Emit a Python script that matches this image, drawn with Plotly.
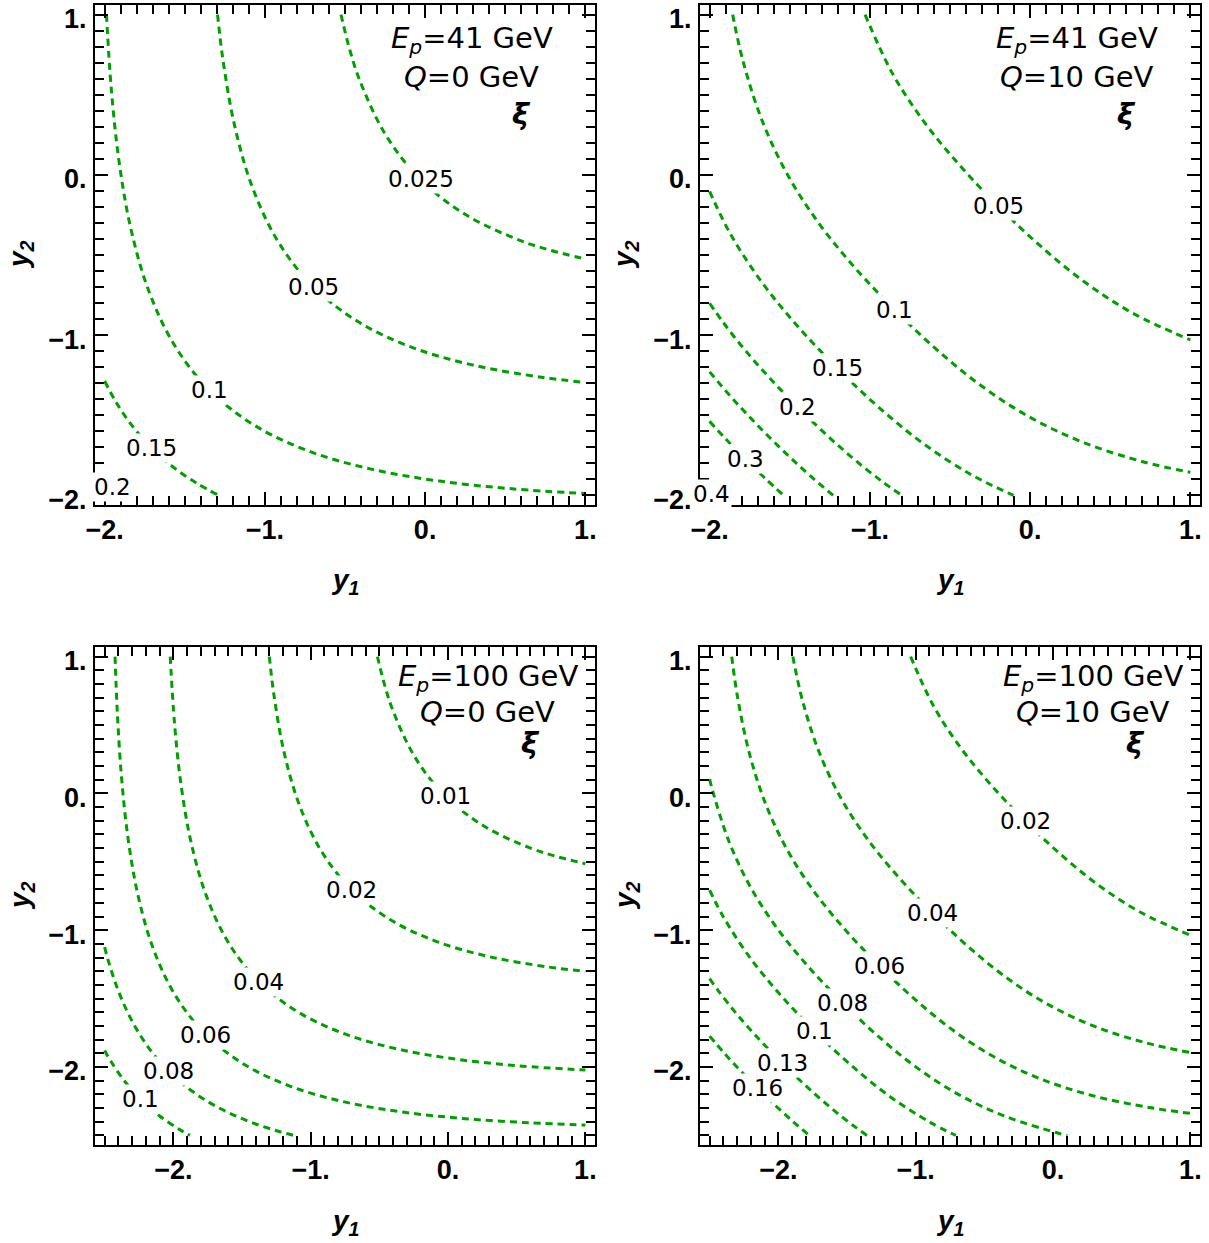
import plotly.graph_objects as go

# ------------------------------------------------------------------ data
# Contour lines of xi: (y1, y2) points of each line.

# Panel 1: E_p = 41 GeV, Q = 0 GeV
P1_LEVELS = ["0.025", "0.05", "0.1", "0.15", "0.2"]
P1_Y1 = [
    [-0.5251, -0.4701, -0.4087, -0.2479, -0.0288, 0.2521, 0.5913, 0.7799, 1.0],
    [-1.2951, -1.2641, -1.1896, -1.0778, -0.9170, -0.6979, -0.4170, -0.0778, 0.3104, 0.7359, 1.0],
    [-1.9885, -1.9588, -1.9107, -1.8362, -1.7244, -1.5636, -1.3445, -1.0636, -0.7244, -0.3362, 0.0893, 0.5412, 1.0],
    [-2.0, -1.9246, -1.8228, -1.7055, -1.5728, -1.4246, -1.2864],
    [-2.0, -1.9507, -1.8988],
]
P1_Y2 = [
    [1.0, 0.7799, 0.5913, 0.2521, -0.0288, -0.2479, -0.4087, -0.4701, -0.5251],
    [1.0, 0.7359, 0.3104, -0.0778, -0.4170, -0.6979, -0.9170, -1.0778, -1.1896, -1.2641, -1.2951],
    [1.0, 0.5412, 0.0893, -0.3362, -0.7244, -1.0636, -1.3445, -1.5636, -1.7244, -1.8362, -1.9107, -1.9588, -1.9885],
    [-1.2864, -1.4246, -1.5728, -1.7055, -1.8228, -1.9246, -2.0],
    [-1.8988, -1.9507, -2.0],
]
P1_LABEL_AT = [-0.0288, -0.6979, -1.3445, -1.7055, -1.9507]

# Panel 2: E_p = 41 GeV, Q = 10 GeV
P2_LEVELS = ["0.05", "0.1", "0.15", "0.2", "", "0.3", "0.4"]
P2_Y1 = [
    [-1.0301, -0.8619, -0.6649, -0.4401, -0.1971, 0.0599, 0.3351, 0.6381, 1.0],
    [-1.8564, -1.7913, -1.6693, -1.5085, -1.3115, -1.0867, -0.8437, -0.5867, -0.3115, -0.0085, 0.3307, 0.7087, 1.0],
    [-2.0, -1.8696, -1.6725, -1.4478, -1.2048, -0.9478, -0.6725, -0.3696, -0.1035],
    [-2.0, -1.9176, -1.8081, -1.6929, -1.5732, -1.4499, -1.3232, -1.1929, -1.0581, -0.9176, -0.801],
    [-2.0, -1.8752, -1.7555, -1.6322, -1.5055, -1.3752, -1.2292],
    [-2.0, -1.8986, -1.7753, -1.6486, -1.5382],
    [-2.0, -1.9889, -1.9777],
]
P2_Y2 = [
    [1.0, 0.6381, 0.3351, 0.0599, -0.1971, -0.4401, -0.6649, -0.8619, -1.0301],
    [1.0, 0.7087, 0.3307, -0.0085, -0.3115, -0.5867, -0.8437, -1.0867, -1.3115, -1.5085, -1.6693, -1.7913, -1.8564],
    [-0.1035, -0.3696, -0.6725, -0.9478, -1.2048, -1.4478, -1.6725, -1.8696, -2.0],
    [-0.801, -0.9176, -1.0581, -1.1929, -1.3232, -1.4499, -1.5732, -1.6929, -1.8081, -1.9176, -2.0],
    [-1.2292, -1.3752, -1.5055, -1.6322, -1.7555, -1.8752, -2.0],
    [-1.5382, -1.6486, -1.7753, -1.8986, -2.0],
    [-1.9777, -1.9889, -2.0],
]
P2_LABEL_AT = [-0.1971, -0.8437, -1.2048, -1.4499, None, -1.7753, -1.9889]

# Panel 3: E_p = 100 GeV, Q = 0 GeV
P3_LEVELS = ["0.01", "0.02", "0.04", "0.06", "0.08", "0.1"]
P3_Y1 = [
    [-0.5139, -0.4608, -0.3995, -0.2387, -0.0196, 0.2613, 0.6005, 0.7892, 1.0],
    [-1.3006, -1.2691, -1.1946, -1.0828, -0.9220, -0.7029, -0.4220, -0.0828, 0.3054, 0.7309, 1.0],
    [-2.0222, -1.9909, -1.9428, -1.8683, -1.7565, -1.5957, -1.3766, -1.0957, -0.7565, -0.3683, 0.0572, 0.5091, 1.0],
    [-2.4241, -2.4076, -2.3773, -2.3293, -2.2548, -2.1429, -1.9821, -1.7630, -1.4821, -1.1429, -0.7548, -0.3293, 0.1227, 0.5924, 1.0],
    [-2.5, -2.4732, -2.4119, -2.3383, -2.2511, -2.1492, -2.0320, -1.8992, -1.7511, -1.5883, -1.4119, -1.2232, -1.1239],
    [-2.5, -2.4559, -2.3541, -2.2369, -2.1041, -1.9559, -1.8787],
]
P3_Y2 = [
    [1.0, 0.7892, 0.6005, 0.2613, -0.0196, -0.2387, -0.3995, -0.4608, -0.5139],
    [1.0, 0.7309, 0.3054, -0.0828, -0.4220, -0.7029, -0.9220, -1.0828, -1.1946, -1.2691, -1.3006],
    [1.0, 0.5091, 0.0572, -0.3683, -0.7565, -1.0957, -1.3766, -1.5957, -1.7565, -1.8683, -1.9428, -1.9909, -2.0222],
    [1.0, 0.5924, 0.1227, -0.3293, -0.7548, -1.1429, -1.4821, -1.7630, -1.9821, -2.1429, -2.2548, -2.3293, -2.3773, -2.4076, -2.4241],
    [-1.1239, -1.2232, -1.4119, -1.5883, -1.7511, -1.8992, -2.0320, -2.1492, -2.2511, -2.3383, -2.4119, -2.4732, -2.5],
    [-1.8787, -1.9559, -2.1041, -2.2369, -2.3541, -2.4559, -2.5],
]
P3_LABEL_AT = [-0.0196, -0.7029, -1.3766, -1.7630, -2.0320, -2.2369]

# Panel 4: E_p = 100 GeV, Q = 10 GeV
P4_LEVELS = ["0.02", "0.04", "0.06", "0.08", "0.1", "0.13", "0.16"]
P4_Y1 = [
    [-1.0367, -0.8669, -0.6699, -0.4451, -0.2021, 0.0549, 0.3301, 0.6331, 1.0],
    [-1.8943, -1.8234, -1.7015, -1.5406, -1.3436, -1.1188, -0.8758, -0.6188, -0.3436, -0.0406, 0.2985, 0.6766, 1.0],
    [-2.3389, -2.2965, -2.2099, -2.0879, -1.9271, -1.7300, -1.5053, -1.2623, -1.0053, -0.7300, -0.4271, -0.0879, 0.2901, 0.7035, 1.0],
    [-2.5, -2.4788, -2.3569, -2.1961, -1.9990, -1.7742, -1.5313, -1.2742, -0.9990, -0.6961, -0.3569, 0.0212, 0.1041],
    [-2.5, -2.4009, -2.2038, -1.9791, -1.7361, -1.4791, -1.2038, -0.9009, -0.7072],
    [-2.5, -2.4393, -2.3297, -2.2145, -2.0949, -1.9716, -1.8449, -1.7145, -1.5797, -1.4393, -1.3546],
    [-2.5, -2.3959, -2.2763, -2.1530, -2.0263, -1.8959, -1.7741],
]
P4_Y2 = [
    [1.0, 0.6331, 0.3301, 0.0549, -0.2021, -0.4451, -0.6699, -0.8669, -1.0367],
    [1.0, 0.6766, 0.2985, -0.0406, -0.3436, -0.6188, -0.8758, -1.1188, -1.3436, -1.5406, -1.7015, -1.8234, -1.8943],
    [1.0, 0.7035, 0.2901, -0.0879, -0.4271, -0.7300, -1.0053, -1.2623, -1.5053, -1.7300, -1.9271, -2.0879, -2.2099, -2.2965, -2.3389],
    [0.1041, 0.0212, -0.3569, -0.6961, -0.9990, -1.2742, -1.5313, -1.7742, -1.9990, -2.1961, -2.3569, -2.4788, -2.5],
    [-0.7072, -0.9009, -1.2038, -1.4791, -1.7361, -1.9791, -2.2038, -2.4009, -2.5],
    [-1.3546, -1.4393, -1.5797, -1.7145, -1.8449, -1.9716, -2.0949, -2.2145, -2.3297, -2.4393, -2.5],
    [-1.7741, -1.8959, -2.0263, -2.1530, -2.2763, -2.3959, -2.5],
]
P4_LABEL_AT = [-0.2021, -0.8758, -1.2623, -1.5313, -1.7361, -1.9716, -2.1530]

EP_VALUES = ["41", "41", "100", "100"]
Q_VALUES = ["0", "10", "0", "10"]

TOP_RANGE = [-2.0, 1.0]
BOTTOM_RANGE = [-2.5, 1.0]
TICK_VALS = [-2, -1, 0, 1]
TICK_TEXT = ["\u22122.", "\u22121.", "0.", "1."]

# ------------------------------------------------------------------ style
GREEN = "#009f00"
W, H = 1209, 1243
X_DOM = [[95 / W, 595 / W], [700 / W, 1200 / W]]
Y_DOM = [[1 - 505 / H, 1 - 5 / H], [1 - 1145 / H, 1 - 647 / H]]
TEXT_Y = [[0.84, 0.61, 0.38], [0.84, 0.595, 0.365]]

panels = [
    (P1_LEVELS, P1_Y1, P1_Y2, P1_LABEL_AT, TOP_RANGE, 0, 0),
    (P2_LEVELS, P2_Y1, P2_Y2, P2_LABEL_AT, TOP_RANGE, 1, 0),
    (P3_LEVELS, P3_Y1, P3_Y2, P3_LABEL_AT, BOTTOM_RANGE, 0, 1),
    (P4_LEVELS, P4_Y1, P4_Y2, P4_LABEL_AT, BOTTOM_RANGE, 1, 1),
]

fig = go.Figure()
annotations = []
layout = dict(
    width=W, height=H, margin=dict(l=0, r=0, t=0, b=0, autoexpand=False),
    paper_bgcolor="white", plot_bgcolor="white", showlegend=False,
)

tickfont = dict(family="Liberation Sans", size=27, color="black", weight="bold")

for i, (levels, ys1, ys2, lab, rng, col, row) in enumerate(panels):
    sfx = "" if i == 0 else str(i + 1)
    xr, yr = "x" + sfx, "y" + sfx
    pad = 0.02 * (rng[1] - rng[0])
    full = [rng[0] - pad, rng[1] + pad]
    common = dict(
        range=full, showline=True, linewidth=2, linecolor="black", mirror="ticks",
        ticks="inside", ticklen=13, tickwidth=2, tickcolor="black",
        tickmode="array", tickvals=TICK_VALS, ticktext=TICK_TEXT,
        tickfont=tickfont, showgrid=False, zeroline=False, automargin=False,
        ticklabeloverflow="allow",
        minor=dict(ticks="inside", ticklen=9, tickwidth=1.8, tickcolor="black",
                   tickmode="linear", tick0=0, dtick=0.1, showgrid=False),
    )
    layout["xaxis" + sfx] = dict(common, domain=X_DOM[col], anchor=yr, ticklabelstandoff=0)
    layout["yaxis" + sfx] = dict(common, domain=Y_DOM[row], anchor=xr, ticklabelstandoff=1,
                                 ticklabelshift=4)

    for lv, a, b in zip(levels, ys1, ys2):
        fig.add_trace(go.Scatter(
            x=a, y=b, xaxis=xr, yaxis=yr, mode="lines", hoverinfo="skip",
            line=dict(color=GREEN, width=3, dash="7px,5px", shape="spline", smoothing=1.0),
        ))
    for lv, p in zip(levels, lab):
        if p is None or lv == "":
            continue
        annotations.append(dict(
            x=p, y=p, xref=xr, yref=yr, text=lv, showarrow=False,
            font=dict(family="DejaVu Sans", size=23, color="black"),
            bgcolor="white", borderpad=1, xanchor="center", yanchor="middle",
        ))
    # panel text
    ty = TEXT_Y[row]
    annotations.append(dict(
        x=0.29, y=ty[0], xref=xr, yref=yr, showarrow=False,
        text="<i>E</i><sub><i>p</i></sub>=" + EP_VALUES[i] + " GeV",
        font=dict(family="DejaVu Sans", size=29, color="black"),
        xanchor="center", yanchor="middle",
    ))
    annotations.append(dict(
        x=0.29, y=ty[1], xref=xr, yref=yr, showarrow=False,
        text="<i>Q</i>=" + Q_VALUES[i] + " GeV",
        font=dict(family="DejaVu Sans", size=29, color="black"),
        xanchor="center", yanchor="middle",
    ))
    annotations.append(dict(
        x=0.6, y=ty[2], xref=xr, yref=yr, showarrow=False, text="\u03be",
        font=dict(family="DejaVu Sans", size=29, color="black", weight="bold", style="italic"),
        xanchor="center", yanchor="middle",
    ))
    # axis titles
    xc = (X_DOM[col][0] + X_DOM[col][1]) / 2
    yc = (Y_DOM[row][0] + Y_DOM[row][1]) / 2
    annotations.append(dict(
        x=xc, y=Y_DOM[row][0] - 77 / H, xref="paper", yref="paper", showarrow=False,
        text="y<sub>1</sub>",
        font=dict(family="Liberation Sans", size=28, color="black", weight="bold", style="italic"),
        xanchor="center", yanchor="middle",
    ))
    annotations.append(dict(
        x=X_DOM[col][0] - 74 / W, y=yc, xref="paper", yref="paper", showarrow=False,
        text="y<sub>2</sub>", textangle=-90,
        font=dict(family="Liberation Sans", size=28, color="black", weight="bold", style="italic"),
        xanchor="center", yanchor="middle",
    ))

layout["annotations"] = annotations
fig.update_layout(**layout)
fig.write_html("out.html")
